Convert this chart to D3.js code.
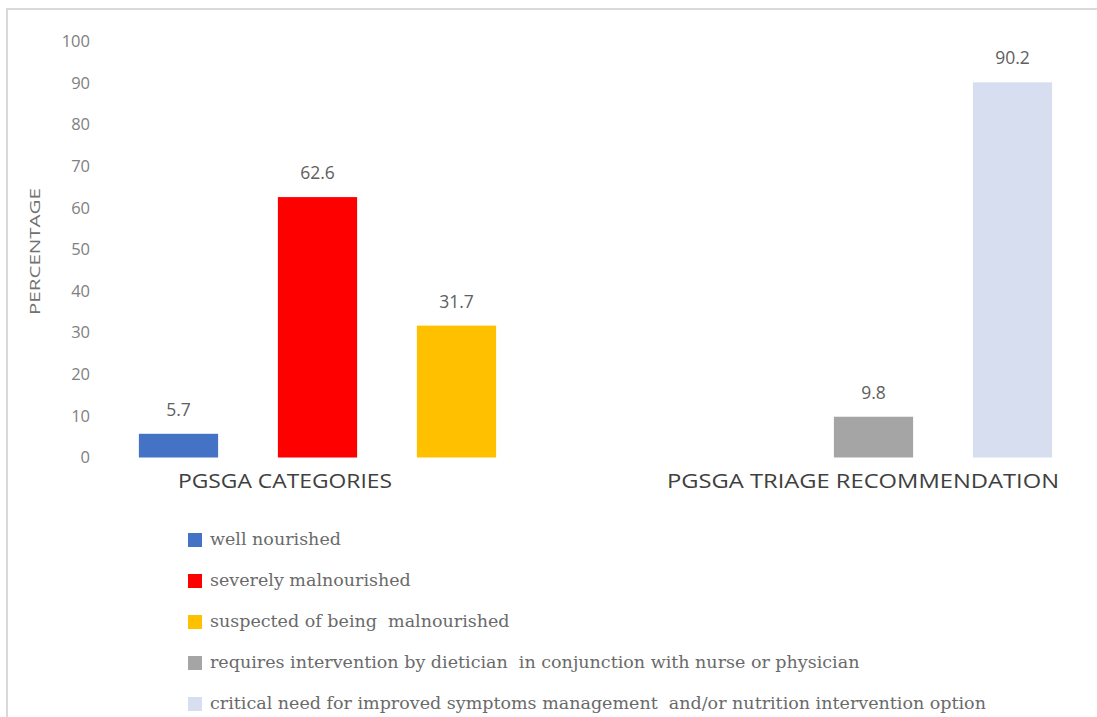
<!DOCTYPE html>
<html>
<head>
<meta charset="utf-8">
<script src="https://cdn.jsdelivr.net/npm/d3@7"></script>
<style>
  body { margin: 0; background: #fff; overflow: hidden; }
  svg { display: block; }
</style>
</head>
<body>
<svg id="drawing_region"></svg>
<script>
// data
const categories = ["PGSGA CATEGORIES", "PGSGA TRIAGE RECOMMENDATION"];
const seriesNames = [
  "well nourished",
  "severely malnourished",
  "suspected of being  malnourished",
  "requires intervention by dietician  in conjunction with nurse or physician",
  "critical need for improved symptoms management  and/or nutrition intervention option"
];
const seriesGroup = [0, 0, 0, 1, 1];
const values = [5.7, 62.6, 31.7, 9.8, 90.2];
const yTicks = [0, 10, 20, 30, 40, 50, 60, 70, 80, 90, 100];

const colors = ["#4472C4", "#FF0000", "#FFC000", "#A5A5A5", "#D6DEF0"];

const config = {
  parent: '#drawing_region',
  width: 1097,
  height: 717
};

const svg = d3.select(config.parent)
  .attr('width', config.width)
  .attr('height', config.height);

// outer frame (only top and left edges are visible)
svg.append('rect')
  .attr('x', 7).attr('y', 9)
  .attr('width', 1200).attr('height', 800)
  .attr('fill', 'none')
  .attr('stroke', '#d9d9d9')
  .attr('stroke-width', 2);

// slots: bars of group 0, two empty slots, bars of group 1
const slotKeys = [];
categories.forEach((c, gi) => {
  if (gi > 0) { slotKeys.push('_gap' + gi + 'a', '_gap' + gi + 'b'); }
  seriesNames.forEach((s, i) => { if (seriesGroup[i] === gi) slotKeys.push(s); });
});

const xScale = d3.scaleBand()
  .domain(slotKeys)
  .range([109, 1082])
  .paddingInner(0.43)
  .paddingOuter(0.215);

const yScale = d3.scaleLinear()
  .domain([0, 100])
  .range([457.5, 41.5]);

const catScale = d3.scalePoint()
  .domain(categories)
  .range([285, 863]);

// y axis, labels only
const yAxis = d3.axisLeft(yScale)
  .tickValues(yTicks)
  .tickSize(0)
  .tickPadding(0);

const yAxisGroup = svg.append('g')
  .attr('transform', 'translate(90,0)')
  .call(yAxis);
yAxisGroup.select('.domain').remove();
yAxisGroup.selectAll('text')
  .attr('font-family', 'Open Sans, Liberation Sans, sans-serif')
  .attr('font-size', 16.5)
  .attr('fill', '#808080');

svg.append('text')
  .attr('transform', `translate(40, ${yScale(50) + 2}) rotate(-90)`)
  .attr('text-anchor', 'middle')
  .attr('font-family', 'Open Sans, Liberation Sans, sans-serif')
  .attr('font-size', 14)
  .attr('fill', '#707070')
  .attr('textLength', 127)
  .attr('lengthAdjust', 'spacingAndGlyphs')
  .text('PERCENTAGE');

const data = seriesNames.map((s, i) => ({ name: s, value: values[i], color: colors[i] }));

svg.selectAll('.bar')
  .data(data)
  .join('rect')
  .attr('class', 'bar')
  .attr('x', d => xScale(d.name))
  .attr('width', xScale.bandwidth())
  .attr('y', d => yScale(d.value))
  .attr('height', d => yScale(0) - yScale(d.value))
  .attr('fill', d => d.color);

svg.selectAll('.value-label')
  .data(data)
  .join('text')
  .attr('class', 'value-label')
  .attr('x', d => xScale(d.name) + xScale.bandwidth() / 2)
  .attr('y', d => yScale(d.value) - 18)
  .attr('text-anchor', 'middle')
  .attr('font-family', 'Open Sans, Liberation Sans, sans-serif')
  .attr('font-size', 17.5)
  .attr('fill', '#606060')
  .text(d => d.value.toFixed(1));

const catWidths = [214, 392];
svg.selectAll('.cat-label')
  .data(categories)
  .join('text')
  .attr('class', 'cat-label')
  .attr('x', d => catScale(d))
  .attr('y', 488)
  .attr('text-anchor', 'middle')
  .attr('font-family', 'Open Sans, Liberation Sans, sans-serif')
  .attr('font-size', 20)
  .attr('fill', '#404040')
  .attr('textLength', (d, i) => catWidths[i])
  .attr('lengthAdjust', 'spacingAndGlyphs')
  .text(d => d);

// legend
const legend = svg.append('g')
  .attr('transform', 'translate(188,540)');

const item = legend.selectAll('.legend-item')
  .data(data)
  .join('g')
  .attr('class', 'legend-item')
  .attr('transform', (d, i) => `translate(0, ${i * 41})`);

item.append('rect')
  .attr('x', 0).attr('y', -7)
  .attr('width', 14).attr('height', 14)
  .attr('fill', d => d.color);

item.append('text')
  .attr('x', 22)
  .attr('y', 5)
  .attr('font-family', 'DejaVu Serif, serif')
  .attr('font-size', 17.5)
  .attr('fill', '#6a6a6a')
  .attr('xml:space', 'preserve')
  .text(d => d.name);
</script>
</body>
</html>
